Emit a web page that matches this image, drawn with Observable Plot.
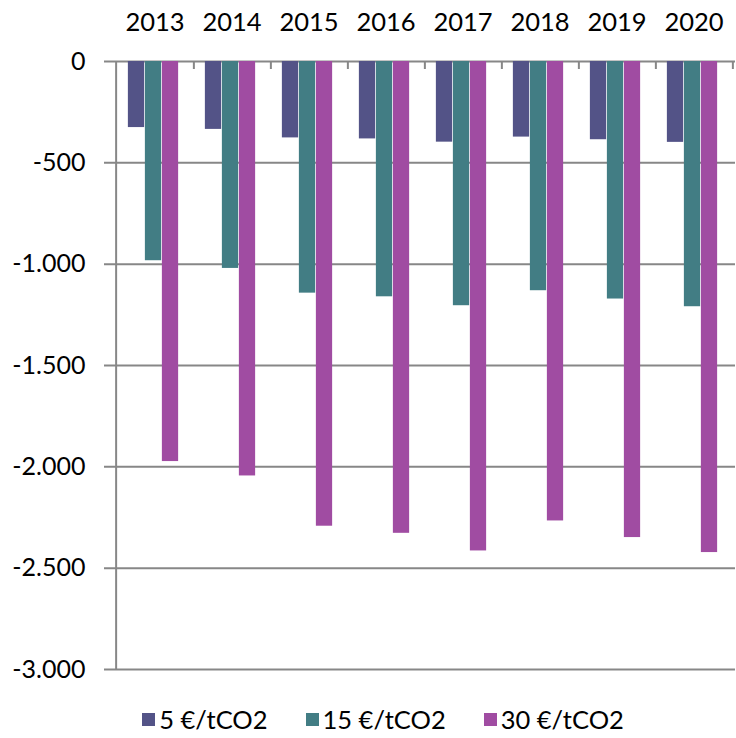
<!DOCTYPE html>
<html>
<head>
<meta charset="utf-8">
<script src="https://cdn.jsdelivr.net/npm/d3@7"></script>
<script src="https://cdn.jsdelivr.net/npm/@observablehq/plot@0.6"></script>
<style>
  html, body { margin: 0; padding: 0; background: #fff; }
  #chart { width: 736px; }
  .legend { display: flex; justify-content: center; align-items: center; gap: 38px; font-family: Lato, sans-serif; font-size: 25.5px; color: #000; margin-top: 14px; padding-left: 30px; }
  .legend span.item { display: flex; align-items: center; gap: 4px; }
  .legend span.sw { width: 13px; height: 13px; display: inline-block; }
</style>
</head>
<body>
<div id="chart"></div>
<script>
const years = ["2013", "2014", "2015", "2016", "2017", "2018", "2019", "2020"];
const seriesNames = ["5 €/tCO2", "15 €/tCO2", "30 €/tCO2"];
const seriesColors = ["#535387", "#427d84", "#a04ca2"];
const values5 = [-326, -335, -377, -382, -398, -373, -386, -399];
const values15 = [-983, -1021, -1143, -1161, -1205, -1131, -1172, -1210];
const values30 = [-1974, -2045, -2293, -2328, -2415, -2267, -2349, -2423];
const yTicks = [0, -500, -1000, -1500, -2000, -2500, -3000];

const seriesValues = [values5, values15, values30];
const table = seriesNames.flatMap((s, k) => years.map((y, i) => ({year: y, series: s, value: seriesValues[k][i]})));

const W = 736, H = 690, mL = 113, mR = 1, mT = 61, mB = 21;
const bw = (W - mL - mR) / years.length;
const barW = 17;
const groupOff = (bw - 3 * barW) / 2 - 1.5;

const fmt = d3.formatLocale({decimal: ",", thousands: ".", grouping: [3], currency: ["", "€"], minus: "-"}).format(",d");

const barMarks = seriesNames.map((s, k) => Plot.barY(table.filter(d => d.series === s), {
  x: "year", y: "value", fill: seriesColors[k],
  insetLeft: groupOff + k * barW,
  insetRight: bw - groupOff - (k + 1) * barW
}));

const plot = Plot.plot({
  width: W, height: H,
  marginLeft: mL, marginRight: mR, marginTop: mT, marginBottom: mB,
  style: {fontFamily: "Lato, sans-serif", fontSize: "25px", color: "#000", background: "#fff"},
  x: {type: "band", domain: years, padding: 0, axis: null},
  y: {domain: [-3000, 0], axis: null},
  marks: [
    Plot.ruleY(yTicks, {stroke: "#878787", strokeWidth: 2, insetLeft: -9}),
    ...barMarks,
    Plot.ruleX([years[0]], {x: d => d, dx: -bw / 2, y1: -3000, y2: 0, stroke: "#878787", strokeWidth: 2}),
    Plot.ruleX(years, {x: d => d, dx: bw / 2, y1: 0, y2: 0, insetBottom: -8, stroke: "#878787", strokeWidth: 2}),
    Plot.axisY({ticks: yTicks, tickFormat: fmt, tickSize: 0, tickPadding: 28, fontSize: 25, fill: "#000", label: null}),
    Plot.axisX({anchor: "top", tickSize: 0, tickPadding: 31, fontSize: 25.5, fill: "#000", label: null})
  ]
});
document.getElementById("chart").appendChild(plot);

const legend = document.createElement("div");
legend.className = "legend";
seriesNames.forEach((s, k) => {
  const item = document.createElement("span");
  item.className = "item";
  const sw = document.createElement("span");
  sw.className = "sw";
  sw.style.background = seriesColors[k];
  const t = document.createElement("span");
  t.textContent = s;
  item.appendChild(sw);
  item.appendChild(t);
  legend.appendChild(item);
});
document.getElementById("chart").appendChild(legend);
</script>
</body>
</html>
